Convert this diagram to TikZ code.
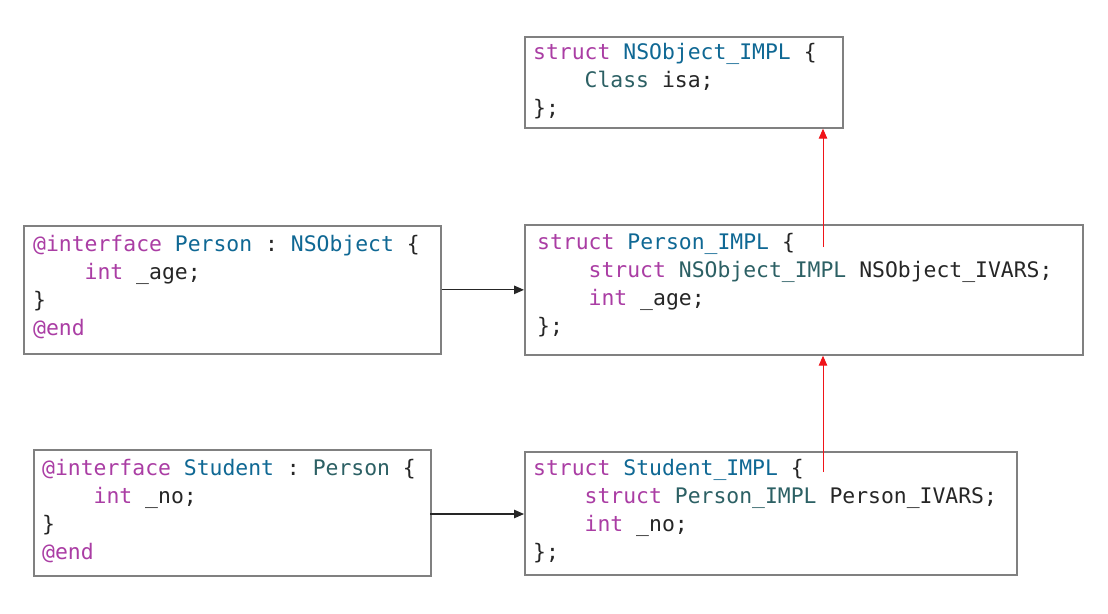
\documentclass[tikz,border=0pt]{standalone}
\usepackage{fontspec}
\setmonofont{DejaVu Sans Mono}
\usetikzlibrary{arrows.meta}
\definecolor{kw}{RGB}{170,61,164}
\definecolor{decl}{RGB}{15,104,148}
\definecolor{ty}{RGB}{44,96,100}
\definecolor{plain}{RGB}{38,38,38}
\definecolor{boxgray}{RGB}{128,128,128}
\definecolor{arrred}{RGB}{240,20,25}
\newcommand{\K}[1]{\textcolor{kw}{#1}}
\newcommand{\D}[1]{\textcolor{decl}{#1}}
\newcommand{\T}[1]{\textcolor{ty}{#1}}
\tikzset{
  codebox/.style={draw=boxgray, line width=1.7pt, inner sep=0pt, anchor=north west, fill=white},
  codeline/.style={anchor=base west, inner sep=0pt, text=plain, font=\ttfamily\fontsize{21.4}{28}\selectfont},
  blackarrow/.style={draw=plain, line width=1.1pt, -{Triangle[length=10pt,width=8.5pt]}},
  redarrow/.style={draw=arrred, line width=1pt, -{Triangle[length=10pt,width=8.5pt]}}
}
\begin{document}
\begin{tikzpicture}[x=1pt,y=-1pt]
\useasboundingbox[fill=white] (0,0) rectangle (1108,613);
% boxes
\node[codebox, minimum width=318pt, minimum height=91pt] (nsimpl) at (524,36) {};
\node[codebox, minimum width=558pt, minimum height=130pt] (pimpl) at (524,224) {};
\node[codebox, minimum width=417pt, minimum height=128pt] (pif) at (23,225) {};
\node[codebox, minimum width=397pt, minimum height=126pt] (sif) at (33,449) {};
\node[codebox, minimum width=492pt, minimum height=123pt] (simpl) at (524,451) {};
% NSObject_IMPL
\node[codeline] (t1) at (533,59.5) {\K{struct} \D{NSObject\_IMPL} \{};
\node[codeline] (t2) at (584.5,87.5) {\T{Class} isa;};
\node[codeline] (t3) at (533,115.5) {\};};
% Person_IMPL
\node[codeline] (p1) at (537,249.5) {\K{struct} \D{Person\_IMPL} \{};
\node[codeline] (p2) at (588.5,277.5) {\K{struct} \T{NSObject\_IMPL} NSObject\_IVARS;};
\node[codeline] (p3) at (588.5,305.5) {\K{int} \_age;};
\node[codeline] (p4) at (537,333.5) {\};};
% Person interface
\node[codeline] (i1) at (33,251.5) {\K{@interface} \D{Person} : \D{NSObject} \{};
\node[codeline] (i2) at (84.5,279.5) {\K{int} \_age;};
\node[codeline] (i3) at (33,307.5) {\}};
\node[codeline] (i4) at (33,335.5) {\K{@end}};
% Student interface
\node[codeline] (s1) at (42,475) {\K{@interface} \D{Student} : \T{Person} \{};
\node[codeline] (s2) at (93.5,503) {\K{int} \_no;};
\node[codeline] (s3) at (42,531) {\}};
\node[codeline] (s4) at (42,559) {\K{@end}};
% Student_IMPL
\node[codeline] (m1) at (533,475) {\K{struct} \D{Student\_IMPL} \{};
\node[codeline] (m2) at (584.5,503) {\K{struct} \T{Person\_IMPL} Person\_IVARS;};
\node[codeline] (m3) at (584.5,531) {\K{int} \_no;};
\node[codeline] (m4) at (533,559) {\};};
% connectors
\coordinate (r1) at (823,247);
\coordinate (r2) at (823,472);
\coordinate (b2) at (430,514);
\draw[redarrow] (r1) -- (r1 |- nsimpl.south);
\draw[redarrow] (r2) -- (r2 |- pimpl.south);
\draw[blackarrow] (pif.east) -- (pif.east -| pimpl.west);
\draw[blackarrow] (b2) -- (b2 -| simpl.west);
\end{tikzpicture}
\end{document}
